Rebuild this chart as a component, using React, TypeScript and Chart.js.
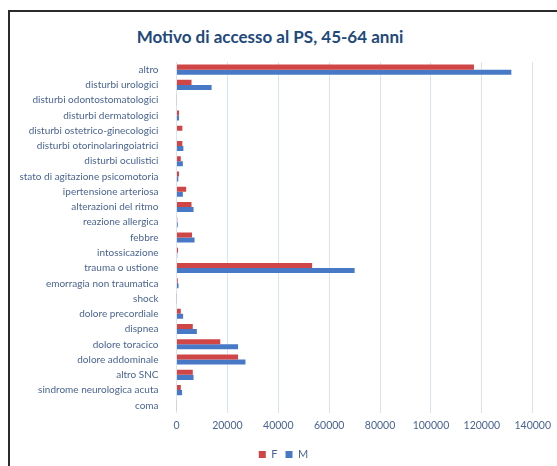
import React, { useEffect, useRef } from "react";
import { Chart, registerables } from "chart.js";

Chart.register(...registerables);

const categories = [
  "altro",
  "disturbi urologici",
  "disturbi odontostomatologici",
  "disturbi dermatologici",
  "disturbi ostetrico-ginecologici",
  "disturbi otorinolaringoiatrici",
  "disturbi oculistici",
  "stato di agitazione psicomotoria",
  "ipertensione arteriosa",
  "alterazioni del ritmo",
  "reazione allergica",
  "febbre",
  "intossicazione",
  "trauma o ustione",
  "emorragia non traumatica",
  "shock",
  "dolore precordiale",
  "dispnea",
  "dolore toracico",
  "dolore addominale",
  "altro SNC",
  "sindrome neurologica acuta",
  "coma",
];

const femmine = [
  116900, 5900, 100, 1000, 2300, 2300, 1700, 1000, 3800, 5900, 300, 6100, 600,
  53300, 500, 50, 1700, 6400, 17200, 24200, 6400, 1700, 100,
];

const maschi = [
  131600, 13800, 100, 1000, 0, 2700, 2500, 700, 2500, 6700, 500, 7100, 300,
  70000, 800, 50, 2600, 8000, 24200, 27100, 6700, 2200, 100,
];

const xTicks = [0, 20000, 40000, 60000, 80000, 100000, 120000, 140000];

const TITLE = "Motivo di accesso al PS, 45-64 anni";
const FONT = "Lato, 'Open Sans', sans-serif";
const LABEL_COLOR = "#4A6491";

export default function App() {
  const canvasRef = useRef<HTMLCanvasElement | null>(null);

  useEffect(() => {
    if (!canvasRef.current) return;
    const chart = new Chart(canvasRef.current, {
      type: "bar",
      data: {
        labels: categories,
        datasets: [
          {
            label: "F",
            data: femmine,
            backgroundColor: "#D04646",
            borderWidth: 0,
            categoryPercentage: 0.66,
            barPercentage: 1,
          },
          {
            label: "M",
            data: maschi,
            backgroundColor: "#4879C6",
            borderWidth: 0,
            categoryPercentage: 0.66,
            barPercentage: 1,
          },
        ],
      },
      options: {
        indexAxis: "y",
        animation: false,
        responsive: false,
        layout: { padding: { top: 50, right: 0, bottom: 0, left: 0 } },
        scales: {
          x: {
            min: 0,
            max: 140000,
            afterBuildTicks: (scale: any) => {
              scale.ticks = xTicks.map((v) => ({ value: v }));
            },
            afterFit: (scale: any) => {
              scale.height = 28;
            },
            grid: { color: "#D9E3F2", drawTicks: false },
            border: { display: false },
            ticks: {
              padding: 6,
              color: LABEL_COLOR,
              font: { family: FONT, size: 10.5 },
              maxRotation: 0,
              callback: (v: any) => String(v),
            },
          },
          y: {
            afterFit: (scale: any) => {
              scale.width = 166.5;
            },
            grid: { display: false },
            border: { display: false },
            ticks: {
              padding: 10,
              color: LABEL_COLOR,
              font: { family: FONT, size: 10 },
              autoSkip: false,
            },
          },
        },
        plugins: {
          title: { display: false },
          tooltip: { enabled: false },
          legend: {
            position: "bottom",
            labels: {
              boxWidth: 7,
              boxHeight: 7,
              padding: 8,
              color: LABEL_COLOR,
              font: { family: FONT, size: 11 },
            },
          },
        },
      },
    });
    return () => chart.destroy();
  }, []);

  return (
    <div
      style={{
        position: "fixed",
        left: 0,
        top: 0,
        width: 557,
        height: 466,
        background: "#fff",
        overflow: "hidden",
      }}
    >
      <div
        style={{
          position: "absolute",
          left: 8,
          top: 10,
          width: 600,
          height: 500,
          borderTop: "2px solid #2b2b2b",
          borderLeft: "2px solid #2b2b2b",
        }}
      />
      <div
        style={{
          position: "absolute",
          left: 10,
          top: 26,
          width: 520,
          textAlign: "center",
          fontFamily: FONT,
          fontWeight: 700,
          fontSize: 17,
          color: "#22497A",
        }}
      >
        {TITLE}
      </div>
      <canvas
        ref={canvasRef}
        width={547}
        height={458}
        style={{ position: "absolute", left: 10, top: 12 }}
      />
    </div>
  );
}
